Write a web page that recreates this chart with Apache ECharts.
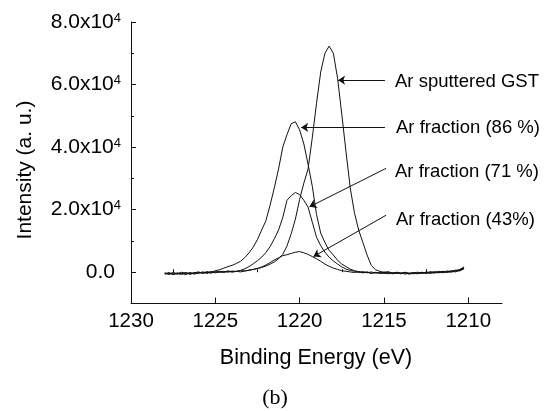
<!DOCTYPE html>
<html>
<head>
<meta charset="utf-8">
<script src="https://cdn.jsdelivr.net/npm/echarts@6/dist/echarts.min.js"></script>
<style>
  html, body { margin: 0; padding: 0; background: #fff; }
  #chart { width: 550px; height: 411px; }
</style>
</head>
<body>
<div id="chart"></div>
<script>
// Binding energy grid (eV)
const energies = [
  1228, 1227.75, 1227.5, 1227.25, 1227, 1226.75, 1226.5, 1226.25,
  1226, 1225.75, 1225.5, 1225.25, 1225, 1224.75, 1224.5, 1224.25,
  1224, 1223.75, 1223.5, 1223.25, 1223, 1222.75, 1222.5, 1222.25,
  1222, 1221.75, 1221.5, 1221.25, 1221, 1220.75, 1220.5, 1220.25,
  1220, 1219.75, 1219.5, 1219.25, 1219, 1218.75, 1218.5, 1218.25,
  1218, 1217.75, 1217.5, 1217.25, 1217, 1216.75, 1216.5, 1216.25,
  1216, 1215.75, 1215.5, 1215.25, 1215, 1214.75, 1214.5, 1214.25,
  1214, 1213.75, 1213.5, 1213.25, 1213, 1212.75, 1212.5, 1212.25,
  1212, 1211.75, 1211.5, 1211.25, 1211, 1210.75, 1210.5, 1210.25
];

// Intensity (a. u.) for each sample
const arSputteredGST = [
  -600, -300, -800, -400, -700, -200, -500, -100,
  -400, 100, -200, 200, 0, 300, 100, 400,
  200, 300, 500, 400, 700, 900, 1200, 1500,
  2000, 2600, 3300, 4300, 5700, 8400, 12300, 17000,
  23300, 28500, 33000, 43000, 54000, 64000, 70000, 72300,
  70000, 62000, 50500, 38500, 27000, 19000, 13500, 9500,
  5500, 2200, 800, 300, -100, 200, -300, -100,
  -500, -200, -600, -300, -500, -100, -400, 0,
  -300, 100, -200, 200, 0, 500, 900, 1700
];

const arFraction86 = [
  -300, -700, -200, -600, -300, -800, -100, -500,
  0, -300, 200, -100, 500, 800, 1300, 1800,
  2200, 2800, 3500, 4700, 6200, 8000, 10500, 13500,
  16500, 21500, 27000, 33000, 40000, 44000, 47500, 48100,
  45500, 41000, 34500, 27500, 18500, 12500, 9500, 7000,
  5500, 3800, 2600, 1800, 1000, 500, 200, -100,
  100, -300, 0, -400, -200, -500, -100, -400,
  -200, -600, -300, -100, -400, 0, -300, 200,
  -100, 300, 0, 400, 200, 700, 400, 1200
];

const arFraction71 = [
  -500, -100, -600, -200, -500, -100, -700, -200,
  100, -400, 0, -300, 200, -100, 300, 0,
  400, 200, 600, 1100, 1800, 2700, 3700, 4800,
  6300, 8200, 10700, 13500, 17500, 23000, 24500, 25500,
  24800, 23000, 20800, 16000, 11200, 8500, 6400, 4800,
  3600, 2600, 1700, 1000, 600, 300, -100, 200,
  -200, 100, -300, 0, -400, -100, -500, -200,
  -400, 0, -300, -500, -200, -400, 100, -200,
  200, -100, 300, 100, 500, 300, 800, 1400
];

const arFraction43 = [
  -200, -600, -100, -500, 0, -400, -200, -600,
  -200, 0, -400, 100, -200, 200, -100, 300,
  0, 300, 100, 400, 600, 900, 1200, 1700,
  2300, 3100, 3900, 4600, 5300, 5600, 6000, 6400,
  6600, 6200, 5700, 5000, 4300, 3500, 2600, 1900,
  1300, 900, 500, 300, 100, -100, 200, -200,
  0, -400, -100, -300, 100, -200, -400, 0,
  -300, -100, -500, -200, 0, -300, -100, -400,
  0, -200, 200, -100, 300, 100, 600, 1100
];

const seriesNames = ['Ar sputtered GST', 'Ar fraction (86 %)', 'Ar fraction (71 %)', 'Ar fraction (43%)'];

// Tick values
const xMajorTicks = [1230, 1225, 1220, 1215, 1210];
const xMinorTicks = [1227.5, 1222.5, 1217.5, 1212.5];
const yMajorTicks = [0, 20000, 40000, 60000, 80000];
const yMinorTicks = [10000, 30000, 50000, 70000];

// Annotation arrows (tail -> head, in data units)
const arrowTails = [[1214.94, 61400], [1214.94, 46300], [1214.88, 33200], [1214.88, 18200]];
const arrowHeads = [[1217.72, 61400], [1219.91, 46300], [1219.42, 20900], [1219.18, 5000]];

const FONT = '"Liberation Sans", Arial, Helvetica, sans-serif';
const INK = '#111';

const chart = echarts.init(document.getElementById('chart'), null, { renderer: 'canvas' });

function toPairs(vals) {
  return energies.map((e, i) => [e, vals[i]]);
}

const seriesValues = [arSputteredGST, arFraction86, arFraction71, arFraction43];

const series = seriesValues.map((vals, k) => ({
  name: seriesNames[k],
  type: 'line',
  data: toPairs(vals),
  showSymbol: false,
  symbol: 'none',
  silent: true,
  lineStyle: { color: INK, width: 1 },
  z: 3
}));

series[0].markLine = {
  silent: true,
  animation: false,
  symbol: ['none', 'arrow'],
  symbolSize: 7,
  label: { show: false },
  lineStyle: { color: INK, width: 1, type: 'solid' },
  emphasis: { disabled: true },
  data: arrowTails.map((t, i) => [{ coord: t }, { coord: arrowHeads[i] }])
};

const baseX = {
  type: 'value',
  inverse: true,
  min: 1208,
  max: 1230,
  splitLine: { show: false },
  axisLine: { show: false },
  axisLabel: { show: false },
  axisTick: { show: false }
};

const baseY = {
  type: 'value',
  min: -10000,
  max: 80000,
  splitLine: { show: false },
  axisLine: { show: false },
  axisLabel: { show: false },
  axisTick: { show: false }
};

const option = {
  animation: false,
  backgroundColor: '#fff',
  grid: { left: 131, right: 48, top: 22, bottom: 107.5 },
  xAxis: [
    Object.assign({}, baseX, {
      position: 'bottom',
      axisLine: { show: true, onZero: false, lineStyle: { color: INK, width: 1 } },
      axisTick: { show: true, inside: true, length: 6, customValues: xMajorTicks, lineStyle: { color: INK } },
      axisLabel: {
        show: true, customValues: xMajorTicks, margin: 7,
        color: '#000', fontSize: 20.5, fontFamily: FONT,
        formatter: v => String(v)
      }
    }),
    Object.assign({}, baseX, {
      position: 'bottom',
      axisTick: { show: true, inside: true, length: 3, customValues: xMinorTicks, lineStyle: { color: INK } }
    })
  ],
  yAxis: [
    Object.assign({}, baseY, {
      position: 'left',
      axisLine: { show: true, onZero: false, lineStyle: { color: INK, width: 1 } },
      axisTick: { show: true, inside: true, length: 5, customValues: yMajorTicks, lineStyle: { color: INK } },
      axisLabel: {
        show: true, customValues: yMajorTicks, margin: 10,
        color: '#000', fontFamily: FONT,
        formatter: v => v === 0
          ? '{m|0.0}{p| }'
          : '{m|' + (v / 10000).toFixed(1) + 'x10}{s|4}',
        rich: {
          m: { fontSize: 21, fontFamily: FONT, color: '#000' },
          s: { fontSize: 13, fontFamily: FONT, color: '#000', verticalAlign: 'top' },
          p: { fontSize: 13, width: 6 }
        }
      }
    }),
    Object.assign({}, baseY, {
      position: 'left',
      offset: 0,
      axisTick: { show: true, inside: true, length: 3, customValues: yMinorTicks, lineStyle: { color: INK } }
    })
  ],
  series: series,
  graphic: [
    {
      type: 'text', x: 25, y: 170, rotation: Math.PI / 2,
      style: { text: 'Intensity (a. u.)', fontSize: 21, fontFamily: FONT, fill: '#000',
               align: 'center', verticalAlign: 'middle', textAlign: 'center', textVerticalAlign: 'middle' }
    },
    {
      type: 'text', x: 316, y: 358,
      style: { text: 'Binding Energy (eV)', fontSize: 21.5, fontFamily: FONT, fill: '#000',
               align: 'center', verticalAlign: 'middle', textAlign: 'center', textVerticalAlign: 'middle' }
    },
    {
      type: 'text', x: 275, y: 398,
      style: { text: '(b)', fontSize: 22, fontFamily: '"Liberation Serif", "Times New Roman", serif', fill: '#000',
               align: 'center', verticalAlign: 'middle', textAlign: 'center', textVerticalAlign: 'middle' }
    },
    {
      type: 'text', x: 395, y: 81.5,
      style: { text: seriesNames[0], fontSize: 18.5, fontFamily: FONT, fill: '#000',
               align: 'left', verticalAlign: 'middle', textAlign: 'left', textVerticalAlign: 'middle' }
    },
    {
      type: 'text', x: 396, y: 128,
      style: { text: seriesNames[1], fontSize: 18.5, fontFamily: FONT, fill: '#000',
               align: 'left', verticalAlign: 'middle', textAlign: 'left', textVerticalAlign: 'middle' }
    },
    {
      type: 'text', x: 395, y: 171.5,
      style: { text: seriesNames[2], fontSize: 18.5, fontFamily: FONT, fill: '#000',
               align: 'left', verticalAlign: 'middle', textAlign: 'left', textVerticalAlign: 'middle' }
    },
    {
      type: 'text', x: 396, y: 220,
      style: { text: seriesNames[3], fontSize: 18.5, fontFamily: FONT, fill: '#000',
               align: 'left', verticalAlign: 'middle', textAlign: 'left', textVerticalAlign: 'middle' }
    }
  ]
};

chart.setOption(option);
</script>
</body>
</html>
